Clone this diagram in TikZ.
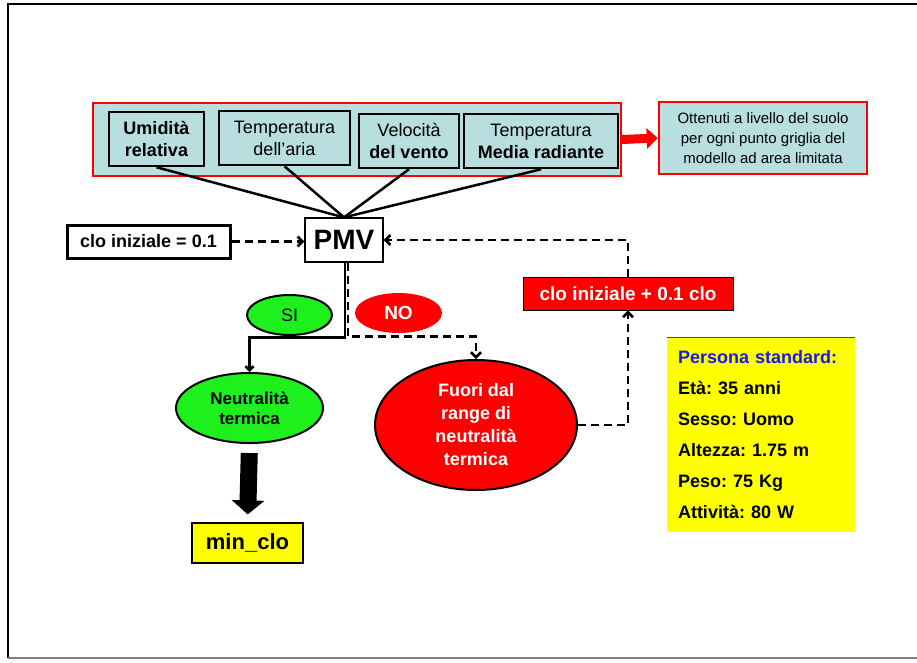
\documentclass[tikz,border=0pt]{standalone}
\usepackage{fontspec}
\setmainfont{Liberation Sans}
\usetikzlibrary{shapes.geometric,arrows.meta}

\definecolor{cyanbox}{RGB}{184,222,224}
\definecolor{greenbox}{RGB}{30,240,30}
\definecolor{yellowbox}{RGB}{255,255,0}
\definecolor{bluetext}{RGB}{25,25,235}
\newcommand{\fs}[2]{\fontsize{#1}{#2}\selectfont}
\frenchspacing

\begin{document}
\begin{tikzpicture}[x=1pt,y=-1pt]
\tikzstyle{every node}=[font=\fs{18}{22}, align=center, inner sep=0pt]
\tikzstyle{inbox}=[draw, line width=2.5pt, fill=cyanbox]
\tikzstyle{oval}=[ellipse, draw, line width=2pt]
\tikzstyle{solidline}=[line width=2.5pt]
\tikzstyle{dashline}=[line width=2.6pt, dash pattern=on 8pt off 5pt, -{Straight Barb[length=5pt,width=10pt]}]

% page size and frame
\useasboundingbox (0,0) rectangle (917,662);
\draw[line width=1.5pt] (917,4) -- (8,4) -- (8,658);
\draw[gray, line width=1.2pt] (8,658) -- (917,658);

% input data
\node[draw=red, line width=2pt, fill=cyanbox, minimum width=528, minimum height=73] (input) at (357,139.5) {};
\node[inbox, minimum width=95, minimum height=54] (umid) at (156.5,139) {\bfseries Umidità\\\bfseries relativa};
\node[inbox, minimum width=131, minimum height=54] (tair) at (284.5,138) {Temperatura\\dell'aria};
\node[inbox, minimum width=100, minimum height=54] (vel) at (409,141) {Velocità\\\bfseries del vento};
\node[inbox, minimum width=154, minimum height=54] (trad) at (541,141) {Temperatura\\\bfseries Media radiante};

\node[draw=red, line width=2.5pt, fill=cyanbox, minimum width=208, minimum height=72, font=\fs{15}{20}] (suolo) at (763,138)
  {Ottenuti a livello del suolo\\per ogni punto griglia del\\modello ad area limitata};
\draw[red, line width=9pt, -{Triangle[width=20pt,length=11pt]}] (input.east) -- (suolo.west);

% PMV
\node[draw, line width=1.2pt, fill=white, minimum width=78, minimum height=44, font=\fs{28}{30}\bfseries] (pmv) at (344,240) {PMV};
\foreach \b in {umid,tair,vel,trad}
	\draw[solidline] (\b.south) -- (pmv.north);

\node[draw, line width=3pt, minimum width=163, minimum height=33, font=\fs{18}{22}\bfseries] (clo0) at (148.5,241.5) {clo iniziale = 0.1};
\draw[dashline] (clo0.east) -- (clo0 -| pmv.west);

\node[fill=red, draw=black, line width=0.8pt, minimum width=210, minimum height=33, text=white, font=\fs{19}{22}\bfseries] (cloinc) at (628,293.5) {clo iniziale + 0.1 clo};
\draw[dashline] (cloinc.north) |- (pmv.east);

% SI / NO
\node[oval, fill=greenbox, minimum width=85, minimum height=40] (si) at (289.5,315) {SI};
\node[ellipse, fill=red, minimum width=87, minimum height=40, text=white, font=\fs{19}{22}\bfseries] (no) at (398.5,313) {NO};

\node[oval, fill=greenbox, minimum width=147, minimum height=70, font=\fs{17}{20}\bfseries] (neutral) at (249.5,408) {Neutralità\\termica};
\node[oval, fill=red, minimum width=202, minimum height=130, text=white, font=\fs{18}{23}\bfseries] (fuori) at (476,425) {Fuori dal\\range di\\neutralità\\termica};

\draw[solidline, -{Straight Barb[length=4pt,width=8pt]}] ([xshift=1pt]pmv.south) -- ++(0,75) -| (neutral.north);
\draw[dashline] ([xshift=4pt]pmv.south) -- ++(0,74) -| (fuori.north);
\draw[dashline] (fuori.east) -| (cloinc.south);

% result
\node[draw, line width=1.2pt, fill=yellowbox, minimum width=111, minimum height=40, font=\fs{22}{24}\bfseries] (minclo) at (247.5,543) {min\_clo};
\draw[line width=17pt, -{Triangle[width=32pt,length=14pt]}, shorten <=9pt, shorten >=8pt] (neutral.south) -- (minclo.north);

% standard person
\node[fill=yellowbox, minimum width=188, minimum height=194, text width=166, align=left, font=\fs{18}{31}\bfseries] (persona) at (761,435)
  {\textcolor{bluetext}{Persona standard:}\\Età: 35 anni\\Sesso: Uomo\\Altezza: 1.75 m\\Peso: 75 Kg\\Attività: 80 W};
\draw[line width=1.2pt, black!70] (persona.north west) -- (persona.north east);

\end{tikzpicture}
\end{document}
